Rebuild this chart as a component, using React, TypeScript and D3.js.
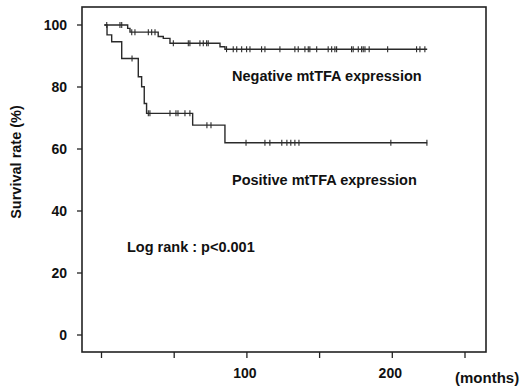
import React from "react";
import * as d3 from "d3";

// Kaplan-Meier step data (months, survival %)
const negTimes = [2, 18, 19.6, 39, 42.5, 47.1, 81.5, 84.9, 224];
const negSurv = [100, 98.9, 97.7, 96.3, 95.7, 94.1, 93.0, 92.2, 92.2];
const negCensor = [3.6, 12.7, 13.9, 20.8, 23, 32.2, 34.5, 36.8, 49.4, 59.7, 60.8, 67.7, 70, 72.3, 73.4, 86, 90.6, 93, 96.4, 99.8, 102.1, 110.1, 112.4, 122.7, 133, 135.3, 139.9, 142.2, 143.3, 148, 155.9, 158.3, 160.5, 161.7, 172, 173.1, 176.6, 178.9, 180, 181.2, 184.1, 196.8, 216.7, 219, 222.4];

const posTimes = [2, 3.8, 7, 13.9, 25.3, 27.6, 29.4, 31, 62.7, 84.9, 224];
const posSurv = [100, 96.8, 94.6, 89.2, 83.3, 80.1, 74.7, 71.5, 67.7, 62.0, 62.0];
const posCensor = [21, 32.2, 33.3, 47.1, 51.2, 52.6, 57.4, 60.8, 72.5, 75.3, 99.4, 112.4, 115.8, 124, 127.5, 130.2, 133, 135.8, 199, 223.8];

const xTicks = [0, 50, 100, 150, 200, 250];
const xTickLabels = ["", "", "100", "", "200", ""];
const yTicks = [0, 20, 40, 60, 80, 100];

const FONT = "'Liberation Sans', Arial, Helvetica, sans-serif";

function levelAt(times: number[], surv: number[], t: number) {
  let v = surv[0];
  for (let i = 0; i < times.length; i++) if (times[i] <= t) v = surv[i];
  return v;
}

export default function App() {
  const W = 529, H = 387;
  const frame = { left: 82, top: 7, right: 486, bottom: 352 };
  const x = d3.scaleLinear().domain([0, 250]).range([101.5, 465]);
  const y = d3.scaleLinear().domain([0, 100]).range([335, 25]);

  const line = d3
    .line<[number, number]>()
    .x((d) => x(d[0]))
    .y((d) => y(d[1]))
    .curve(d3.curveStepAfter);

  const negPts = negTimes.map((t, i) => [t, negSurv[i]] as [number, number]);
  const posPts = posTimes.map((t, i) => [t, posSurv[i]] as [number, number]);

  const stroke = "#2a2a2a";

  return (
    <svg width={W} height={H} style={{ position: "absolute", left: 0, top: 0, background: "#fff" }} fontFamily={FONT}>
      <rect x={0} y={0} width={W} height={H} fill="#fff" />
      {/* frame */}
      <rect x={frame.left} y={frame.top} width={frame.right - frame.left} height={frame.bottom - frame.top} fill="none" stroke="#222" strokeWidth={1.6} />
      {/* y ticks */}
      {yTicks.map((v) => (
        <g key={"y" + v}>
          <line x1={frame.left - 5} x2={frame.left} y1={y(v)} y2={y(v)} stroke="#222" strokeWidth={1.3} />
          <text x={67} y={y(v)} dy="0.35em" textAnchor="end" fontSize={14} fontWeight="bold" fill="#111">{v}</text>
        </g>
      ))}
      {/* x ticks */}
      {xTicks.map((v, i) => (
        <g key={"x" + v}>
          <line x1={x(v)} x2={x(v)} y1={frame.bottom} y2={frame.bottom + 6} stroke="#222" strokeWidth={1.3} />
          {xTickLabels[i] && (
            <text x={x(v) - 2} y={378} textAnchor="middle" fontSize={14} fontWeight="bold" fill="#111">{xTickLabels[i]}</text>
          )}
        </g>
      ))}
      <text x={455} y={383} fontSize={15} fontWeight="bold" fill="#111">(months)</text>
      <text transform={`translate(21,162) rotate(-90)`} textAnchor="middle" fontSize={14.5} fontWeight="bold" fill="#111">Survival rate (%)</text>

      {/* curves */}
      <path d={line(negPts) || ""} fill="none" stroke={stroke} strokeWidth={1.4} />
      <path d={line(posPts) || ""} fill="none" stroke={stroke} strokeWidth={1.4} />
      {negCensor.map((t, i) => {
        const v = y(levelAt(negTimes, negSurv, t));
        return <line key={"nc" + i} x1={x(t)} x2={x(t)} y1={v - 3} y2={v + 3} stroke={stroke} strokeWidth={1.1} />;
      })}
      {posCensor.map((t, i) => {
        const v = y(levelAt(posTimes, posSurv, t));
        return <line key={"pc" + i} x1={x(t)} x2={x(t)} y1={v - 3} y2={v + 3} stroke={stroke} strokeWidth={1.1} />;
      })}

      {/* annotations */}
      <text x={232} y={81} fontSize={14.5} fontWeight="bold" fill="#111">Negative mtTFA expression</text>
      <text x={232} y={185} fontSize={14.5} fontWeight="bold" fill="#111">Positive mtTFA expression</text>
      <text x={127} y={252} fontSize={14.5} fontWeight="bold" fill="#111">Log rank : p&lt;0.001</text>
    </svg>
  );
}
